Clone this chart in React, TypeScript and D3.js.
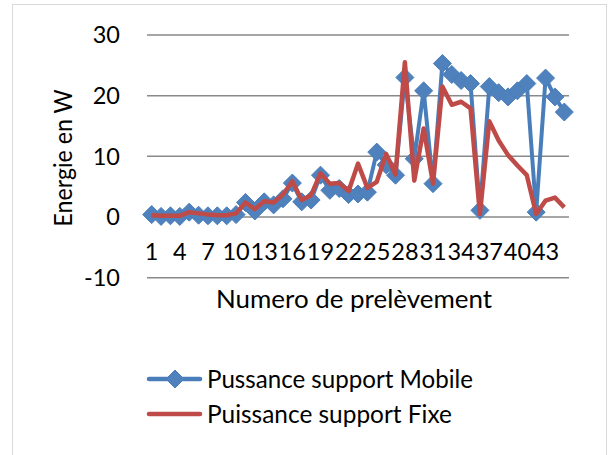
import React from "react";
import * as d3 from "d3";

const categories = [
  1, 2, 3, 4, 5, 6, 7, 8, 9, 10, 11, 12, 13, 14, 15, 16, 17, 18, 19, 20, 21, 22, 23,
  24, 25, 26, 27, 28, 29, 30, 31, 32, 33, 34, 35, 36, 37, 38, 39, 40, 41, 42, 43, 44, 45,
];

const mobile = [
  0.4, 0.1, 0.2, 0.1, 0.8, 0.3, 0.2, 0.2, 0.2, 0.4,
  2.4, 1.0, 2.5, 2.0, 3.0, 5.6, 2.5, 2.8, 6.9, 4.4,
  4.7, 3.7, 3.8, 4.1, 10.7, 8.6, 6.9, 23.0, 9.6, 20.8,
  5.5, 25.3, 23.5, 22.5, 22.0, 1.1, 21.5, 20.5, 19.8, 20.8,
  22.0, 0.8, 22.9, 19.8, 17.3,
];

const fixe = [
  0.3, 0.2, 0.2, 0.2, 0.8, 0.6, 0.4, 0.3, 0.3, 0.6,
  2.4, 1.3, 2.6, 2.4, 3.7, 5.9, 2.8, 3.6, 7.2, 5.5,
  5.6, 4.3, 8.8, 4.8, 5.8, 10.4, 7.0, 25.5, 6.0, 14.6,
  5.5, 21.5, 18.5, 19.0, 17.9, 0.5, 15.8, 12.6, 10.2, 8.5,
  6.9, 0.5, 2.7, 3.2, 1.6,
];

const yTicks = [-10, 0, 10, 20, 30];
const xTickLabels = [1, 4, 7, 10, 13, 16, 19, 22, 25, 28, 31, 34, 37, 40, 43];

const seriesNames = ["Pussance support Mobile", "Puissance support Fixe"];
const xTitle = "Numero de prelèvement";
const yTitle = "Energie en W";
const BLUE = "#4A7EBB";
const BLUE_FILL = "#4F81BD";
const RED = "#BE4B48";
const FONT = "Lato, 'Open Sans', sans-serif";

const diamondPath = (r: number) => `M0,${-r}L${r},0L0,${r}L${-r},0Z`;

export default function App() {
  const W = 610;
  const H = 455;
  const x = d3.scaleBand<number>().domain(categories).range([147, 569]);
  const cx = (c: number) => (x(c) as number) + x.bandwidth() / 2;
  const y = d3.scaleLinear().domain([-10, 30]).range([277.7, 35]);

  const line = d3
    .line<number>()
    .x((_, i) => cx(categories[i]))
    .y((d) => y(d));

  const fs = 25;
  const tfs = 23.5;

  return (
    <svg
      width={W}
      height={H}
      style={{ position: "absolute", left: 0, top: 0, background: "#fff" }}
      fontFamily={FONT}
    >
      <rect x={0} y={0} width={W} height={H} fill="#fff" />
      <rect x={12.5} y={4.5} width={594} height={470} fill="none" stroke="#D9D9D9" strokeWidth={1} />

      {/* gridlines */}
      {yTicks.map((t) => (
        <line
          key={t}
          x1={x.range()[0]}
          x2={x.range()[1]}
          y1={y(t)}
          y2={y(t)}
          stroke="#898989"
          strokeWidth={1.5}
        />
      ))}

      {/* y tick labels */}
      {yTicks.map((t) => (
        <text key={t} x={120} y={y(t)} dy="0.35em" textAnchor="end" fontSize={tfs} fill="#000">
          {t}
        </text>
      ))}

      {/* x tick labels */}
      {xTickLabels.map((c) => (
        <text key={c} x={cx(c)} y={252} dy="0.35em" textAnchor="middle" fontSize={tfs} fill="#000">
          {c}
        </text>
      ))}

      {/* axis titles */}
      <text
        x={354}
        y={299}
        dy="0.35em"
        textAnchor="middle"
        fontSize={fs}
        fill="#000"
        textLength={276}
        lengthAdjust="spacingAndGlyphs"
      >
        {xTitle}
      </text>
      <text
        transform={`translate(63,158) rotate(-90)`}
        dy="0.35em"
        textAnchor="middle"
        fontSize={fs}
        fill="#000"
        textLength={137}
        lengthAdjust="spacingAndGlyphs"
      >
        {yTitle}
      </text>

      {/* series: mobile */}
      <path d={line(mobile) || ""} fill="none" stroke={BLUE} strokeWidth={4} strokeLinejoin="round" />
      {mobile.map((v, i) => (
        <path
          key={i}
          d={diamondPath(9)}
          transform={`translate(${cx(categories[i])},${y(v)})`}
          fill={BLUE_FILL}
          stroke={BLUE}
          strokeWidth={1}
        />
      ))}

      {/* series: fixe */}
      <path d={line(fixe) || ""} fill="none" stroke={RED} strokeWidth={4.5} strokeLinejoin="round" />

      {/* legend */}
      <line x1={149} x2={200} y1={379} y2={379} stroke={BLUE} strokeWidth={4.5} strokeLinecap="round" />
      <path d={diamondPath(9)} transform="translate(175,379)" fill={BLUE_FILL} stroke={BLUE} strokeWidth={1} />
      <text
        x={207}
        y={379}
        dy="0.35em"
        fontSize={fs}
        fill="#000"
        textLength={266}
        lengthAdjust="spacingAndGlyphs"
      >
        {seriesNames[0]}
      </text>
      <line x1={149} x2={200} y1={414} y2={414} stroke={RED} strokeWidth={4.5} strokeLinecap="round" />
      <text
        x={207}
        y={414}
        dy="0.35em"
        fontSize={fs}
        fill="#000"
        textLength={245}
        lengthAdjust="spacingAndGlyphs"
      >
        {seriesNames[1]}
      </text>
    </svg>
  );
}
